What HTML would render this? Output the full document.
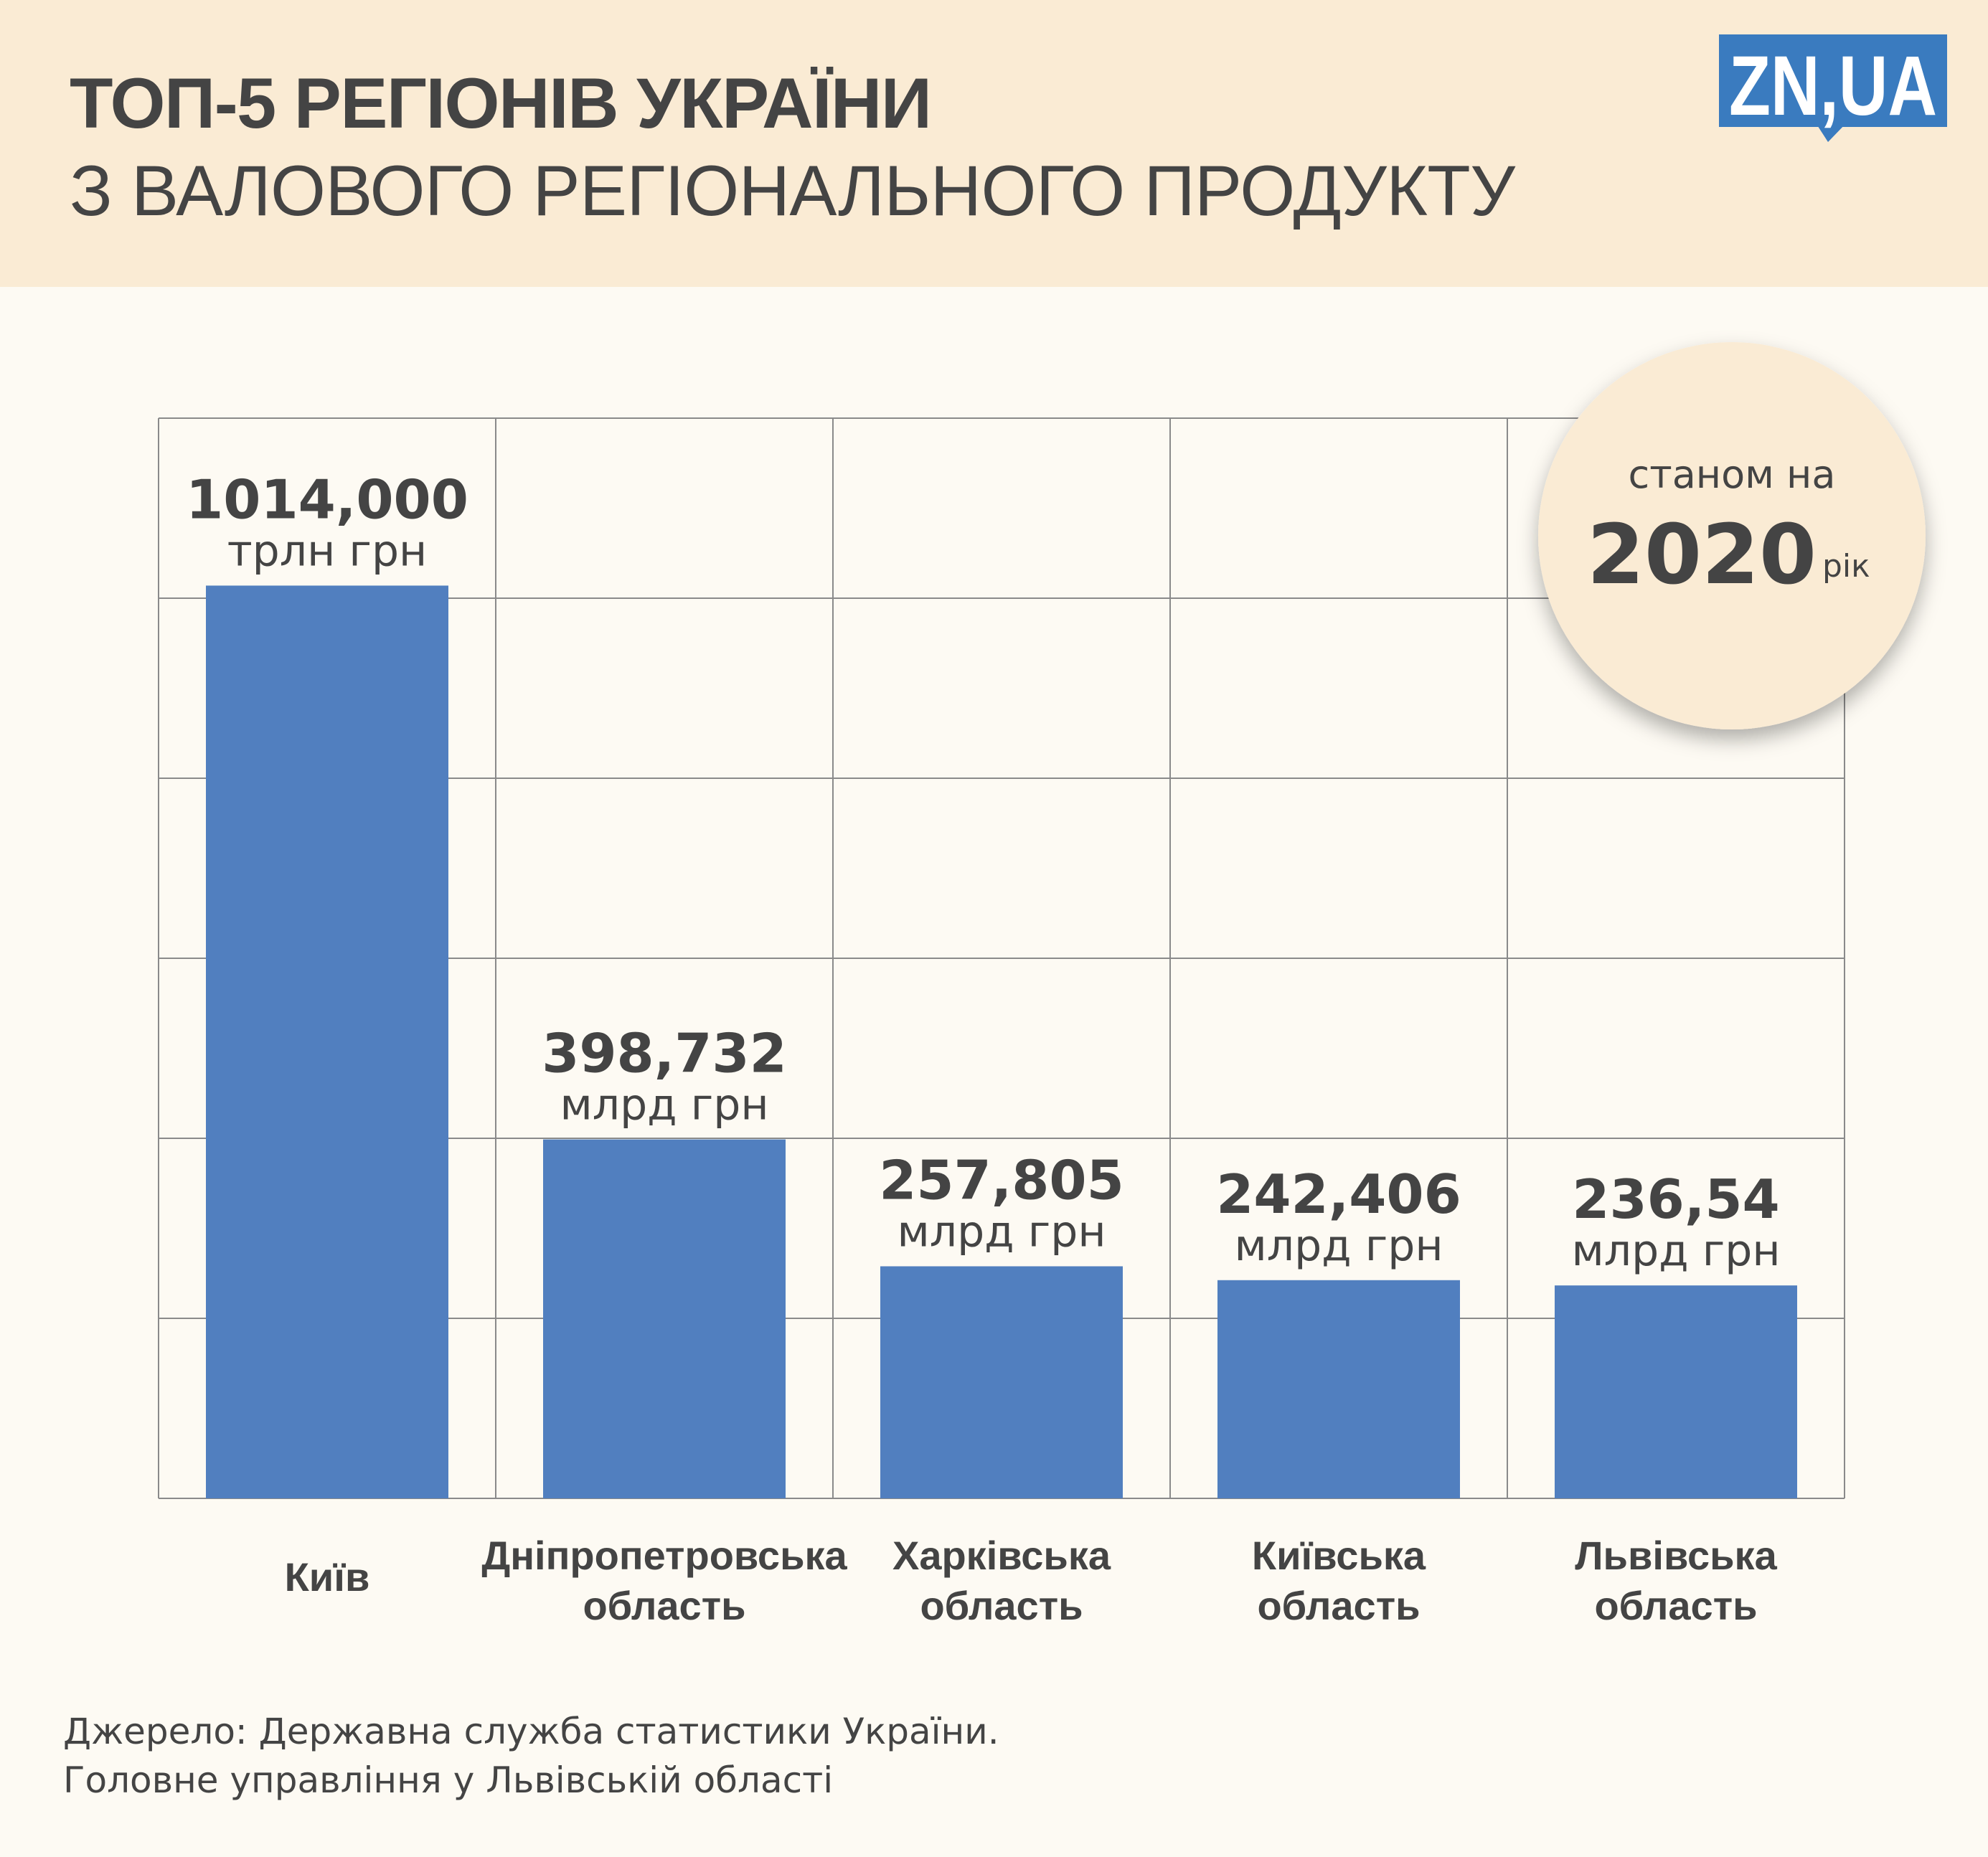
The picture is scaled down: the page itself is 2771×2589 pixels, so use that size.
<!DOCTYPE html>
<html><head><meta charset="utf-8">
<style>
html,body{margin:0;padding:0;background:#fdfaf3;}
svg{display:block;font-family:"Liberation Sans","DejaVu Sans",sans-serif;}
.dv{font-family:"DejaVu Sans","Liberation Sans",sans-serif;}
</style></head>
<body>
<svg id="chart" width="2771" height="2589" viewBox="0 0 2771 2589" xmlns="http://www.w3.org/2000/svg">
<defs>
<filter id="sh" x="-30%" y="-30%" width="160%" height="160%"><feDropShadow dx="0" dy="14" stdDeviation="14" flood-color="#000" flood-opacity="0.3"/></filter>
</defs>
<rect x="0" y="0" width="2771" height="2589" fill="#fdfaf3"/>
<rect x="0" y="0" width="2771" height="400" fill="#faebd4"/>
<text x="97" y="178" font-size="99" font-weight="bold" fill="#444" textLength="1202">ТОП-5 РЕГІОНІВ УКРАЇНИ</text>
<text x="97" y="300" font-size="99" fill="#444" textLength="2015">З ВАЛОВОГО РЕГІОНАЛЬНОГО ПРОДУКТУ</text>
<g>
<rect x="2396" y="48" width="318" height="129" fill="#3a7bbf"/>
<polygon points="2530,170 2575,170 2548,198" fill="#3a7bbf"/>
<text x="2555" y="160" font-size="118" font-weight="bold" fill="#fff" text-anchor="middle" textLength="290" lengthAdjust="spacingAndGlyphs">ZN,UA</text>
</g>
<g id="grid"></g>
<g id="bars"></g>
<g>
<circle cx="2414" cy="747" r="270" fill="#faebd4" filter="url(#sh)"/>
<text class="dv" x="2414" y="680" font-size="54" fill="#444" text-anchor="middle">станом на</text>
<text class="dv" x="2212" y="813" font-size="115" font-weight="bold" fill="#444">2020</text>
<text class="dv" x="2540" y="804" font-size="44" fill="#444">рік</text>
</g>
<text class="dv" x="88" y="2431" font-size="50" fill="#444">Джерело: Державна служба статистики України.</text>
<text class="dv" x="88" y="2499" font-size="50" fill="#444">Головне управління у Львівській області</text>
</svg>
<script>
const categories = [["Київ"],["Дніпропетровська","область"],["Харківська","область"],["Київська","область"],["Львівська","область"]];
const values = [1014, 398.732, 257.805, 242.406, 236.54];
const valueLabels = ["1014,000","398,732","257,805","242,406","236,54"];
const unitLabels = ["трлн грн","млрд грн","млрд грн","млрд грн","млрд грн"];
const yTicks = [0,200,400,600,800,1000,1200];

const NS="http://www.w3.org/2000/svg";
const L=221,R=2571,T=583,B=2089,yMax=1200;
const colW=(R-L)/categories.length;
function y(v){return B-(v/yMax)*(B-T);}
function xCol(i){return L+i*colW;}
function mk(tag,attrs,parent){const e=document.createElementNS(NS,tag);for(const k in attrs)e.setAttribute(k,attrs[k]);parent.appendChild(e);return e;}
const grid=document.getElementById('grid');
yTicks.forEach(t=>{
  const ln=mk('line',{x1:L,x2:R,y1:y(t),y2:y(t),stroke:'#8a8a8a','stroke-width':2},grid);
  
  
});
for(let i=0;i<=categories.length;i++){
  const ln=mk('line',{x1:xCol(i),x2:xCol(i),y1:T,y2:B,stroke:'#8a8a8a','stroke-width':2},grid);
  
  
}
const bars=document.getElementById('bars');
const bw=338;
values.forEach((v,i)=>{
  const cx=xCol(i)+colW/2, top=y(v);
  const r=mk('rect',{x:cx-bw/2,y:top,width:bw,height:B-top,fill:'#517fbf'},bars);
  
  
  const vl=mk('text',{class:'dv',x:cx,y:top-94,'font-size':75,'font-weight':'bold',fill:'#444','text-anchor':'middle'},bars);
  vl.textContent=valueLabels[i];
  
  
  const ul=mk('text',{class:'dv',x:cx,y:top-28,'font-size':60,fill:'#444','text-anchor':'middle'},bars);
  ul.textContent=unitLabels[i];
  
  
  const lines=categories[i];
  const ys=lines.length===1?[2218]:[2188,2258];
  lines.forEach((s,j)=>{
    const c=mk('text',{x:cx,y:ys[j],'font-size':56,'font-weight':'bold',fill:'#444','text-anchor':'middle'},bars);
    c.textContent=s;
    
    
  });
});
</script>
</body></html>
